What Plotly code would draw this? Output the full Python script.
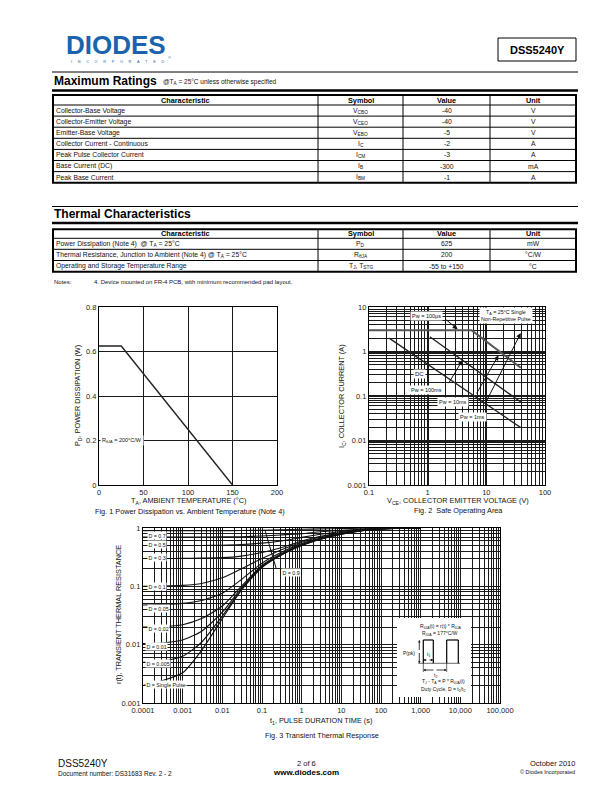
import math
import plotly.graph_objects as go

W, H = 612, 792
FONT = "Liberation Sans, Arial, sans-serif"


def px(x):
    return x / W


def py(y):
    return 1 - y / H


# ---------------- table data ----------------
MR_HEAD = ["Characteristic", "Symbol", "Value", "Unit"]
MR_CHAR = ["Collector-Base Voltage", "Collector-Emitter Voltage", "Emitter-Base Voltage",
           "Collector Current - Continuous", "Peak Pulse Collector Current",
           "Base Current (DC)", "Peak Base Current"]
MR_SYM = ["V<sub>CBO</sub>", "V<sub>CEO</sub>", "V<sub>EBO</sub>", "I<sub>C</sub>",
          "I<sub>CM</sub>", "I<sub>B</sub>", "I<sub>BM</sub>"]
MR_VAL = ["-40", "-40", "-5", "-2", "-3", "-300", "-1"]
MR_UNIT = ["V", "V", "V", "A", "A", "mA", "A"]

TC_CHAR = ["Power Dissipation (Note 4)  @ T<sub>A</sub> = 25°C",
           "Thermal Resistance, Junction to Ambient (Note 4) @ T<sub>A</sub> = 25°C",
           "Operating and Storage Temperature Range"]
TC_SYM = ["P<sub>D</sub>", "R<sub>θJA</sub>", "T<sub>J</sub>, T<sub>STG</sub>"]
TC_VAL = ["625", "200", "-55 to +150"]
TC_UNIT = ["mW", "°C/W", "°C"]

# ---------------- Fig 1 data ----------------
PD_TEMP = [0, 25, 150]
PD_POWER = [0.625, 0.625, 0.0]
F1_XTICKS = [0, 50, 100, 150, 200]
F1_YTICKS = [0, 0.2, 0.4, 0.6, 0.8]
F1_YTEXT = ["0", "0.2", "0.4", "0.6", "0.8"]

# ---------------- Fig 2 data ----------------
SOA_DC_V = [0.22, 38.6]
SOA_DC_I = [2.0, 0.0195]
SOA_MID_V = [1.09, 38.6]
SOA_MID_I = [2.14, 0.073]
SOA_TOP_V = [0.1, 5.6, 38.6]
SOA_TOP_I = [3.0, 3.0, 0.43]
F2_XDEC = [0.1, 1, 10, 100]
F2_XTEXT = ["0.1", "1", "10", "100"]
F2_YDEC = [0.001, 0.01, 0.1, 1, 10]
F2_YTEXT = ["0.001", "0.01", "0.1", "1", "10"]

# ---------------- Fig 3 data ----------------
T1 = [1e-4, 3e-4, 1e-3, 3e-3, 1e-2, 3e-2, 1e-1, 3e-1, 1, 3, 10, 30, 100, 300, 1000]
R_SINGLE = [0.002, 0.0024, 0.0033, 0.008, 0.028, 0.085, 0.21, 0.34, 0.5, 0.64, 0.78, 0.89, 0.96, 0.99, 1.0]
R_D0005 = [0.005, 0.0052, 0.0063, 0.011, 0.031, 0.088, 0.215, 0.345, 0.505, 0.645, 0.785, 0.89, 0.96, 0.99, 1.0]
R_D001 = [0.0105, 0.0107, 0.012, 0.017, 0.036, 0.093, 0.22, 0.35, 0.51, 0.65, 0.79, 0.895, 0.962, 0.99, 1.0]
R_D002 = [0.02, 0.0203, 0.022, 0.028, 0.046, 0.1, 0.23, 0.36, 0.52, 0.66, 0.8, 0.9, 0.965, 0.99, 1.0]
R_D005 = [0.048, 0.049, 0.051, 0.057, 0.076, 0.13, 0.25, 0.38, 0.54, 0.67, 0.81, 0.905, 0.967, 0.99, 1.0]
R_D01 = [0.1, 0.101, 0.104, 0.112, 0.14, 0.2, 0.3, 0.42, 0.57, 0.7, 0.82, 0.91, 0.97, 0.99, 1.0]
R_D03 = [0.3, 0.3, 0.301, 0.304, 0.31, 0.33, 0.38, 0.46, 0.6, 0.72, 0.84, 0.92, 0.97, 0.99, 1.0]
R_D05 = [0.5, 0.5, 0.5, 0.502, 0.507, 0.52, 0.55, 0.6, 0.69, 0.78, 0.87, 0.93, 0.975, 0.99, 1.0]
R_D07 = [0.7, 0.7, 0.7, 0.701, 0.704, 0.71, 0.73, 0.76, 0.8, 0.86, 0.91, 0.95, 0.98, 0.995, 1.0]
R_D09 = [0.9, 0.9, 0.9, 0.9, 0.901, 0.905, 0.915, 0.93, 0.95, 0.965, 0.98, 0.99, 0.995, 1.0, 1.0]
F3_XDEC = [1e-4, 1e-3, 1e-2, 1e-1, 1, 10, 100, 1000, 1e4, 1e5]
F3_XTEXT = ["0.0001", "0.001", "0.01", "0.1", "1", "10", "100", "1,000", "10,000", "100,000"]
F3_YDEC = [0.001, 0.01, 0.1, 1]
F3_YTEXT = ["0.001", "0.01", "0.1", "1"]

fig = go.Figure()
shapes = []
anns = []


def line(x0, y0, x1, y1, w=1, color="black"):
    shapes.append(dict(type="line", xref="paper", yref="paper", x0=px(x0), y0=py(y0),
                       x1=px(x1), y1=py(y1), line=dict(color=color, width=w)))


def rect(x0, y0, x1, y1, w=1, fill=None, color="black"):
    d = dict(type="rect", xref="paper", yref="paper", x0=px(x0), y0=py(y0),
             x1=px(x1), y1=py(y1), line=dict(color=color, width=w))
    if fill:
        d["fillcolor"] = fill
    shapes.append(d)


def text(t, x, y, size=7, anchor="center", color="#111", bold=False, textangle=0, yanchor="middle"):
    if bold:
        t = "<b>" + t + "</b>"
    anns.append(dict(text=t, x=px(x), y=py(y), xref="paper", yref="paper", showarrow=False,
                     xanchor=anchor, yanchor=yanchor, textangle=textangle, borderpad=0,
                     font=dict(family=FONT, size=size, color=color)))


# ---------------- header ----------------
BLUE = "#1b63ad"
text("<b>DIODES</b>", 65, 45, size=26, anchor="left", color=BLUE)
text("\u2002\u2002\u2002".join("INCORPORATED"), 70, 62, size=3.8, anchor="left", color=BLUE)
text("®", 167, 57, size=4, anchor="left", color=BLUE)
rect(498, 38, 576, 61, w=1)
text("DSS5240Y", 537, 49.5, size=11, bold=True, color="black")
line(52, 72, 578, 72, w=1)

# ---------------- Maximum ratings table ----------------
text("Maximum Ratings", 53, 81, size=12, anchor="left", bold=True, color="black")
text("@T<sub>A</sub> = 25°C unless otherwise specified", 162, 82, size=6.5, anchor="left")
line(52, 90.5, 578, 90.5, w=2.5)

COLS = [53, 318, 403, 490, 576]


def table(top, row_bounds, chars, syms, vals, units):
    bottom = row_bounds[-1]
    for yb in row_bounds[1:-1]:
        line(COLS[0], yb, COLS[-1], yb, w=1)
    for xb in COLS[1:-1]:
        line(xb, top, xb, bottom, w=1)
    rect(COLS[0], top, COLS[-1], bottom, w=2)
    hc = (row_bounds[0] + row_bounds[1]) / 2
    for i, h in enumerate(MR_HEAD):
        text(h, (COLS[i] + COLS[i + 1]) / 2, hc, size=7.3, bold=True, color="black")
    for r in range(len(chars)):
        yc = (row_bounds[r + 1] + row_bounds[r + 2]) / 2
        text(chars[r], COLS[0] + 2, yc, size=6.8, anchor="left")
        text(syms[r], (COLS[1] + COLS[2]) / 2, yc, size=6.8)
        text(vals[r], (COLS[2] + COLS[3]) / 2, yc, size=6.8)
        text(units[r], (COLS[3] + COLS[4]) / 2, yc, size=6.8)


MR_ROWS = [95, 105, 116.1, 127.2, 138.3, 149.4, 160.5, 171.6, 182.7]
table(95, MR_ROWS, MR_CHAR, MR_SYM, MR_VAL, MR_UNIT)

# ---------------- Thermal table ----------------
line(52, 206.5, 578, 206.5, w=1)
text("Thermal Characteristics", 53, 214.5, size=12, anchor="left", bold=True, color="black")
line(52, 223, 578, 223, w=2.5)
TC_ROWS = [229.3, 238.3, 249.3, 260.5, 271.7]
table(229.3, TC_ROWS, TC_CHAR, TC_SYM, TC_VAL, TC_UNIT)
text("Notes:", 53, 282, size=6, anchor="left")
text("4. Device mounted on FR-4 PCB, with minimum recommended pad layout.", 93, 282, size=6, anchor="left")

# ---------------- axes ----------------
TICKFONT = dict(family=FONT, size=7.5, color="#222")
GRID = "#1a1a1a"


def minors(decs):
    out = []
    for d in decs[:-1]:
        for k in range(2, 10):
            out.append(k * d)
    return out


def minor(decs):
    return dict(tickmode="array", tickvals=minors(decs), showgrid=True, gridcolor=GRID,
                gridwidth=1, ticks="", ticklen=0)


common = dict(showgrid=True, gridcolor=GRID, showline=True, linecolor="black", linewidth=1.2,
              mirror=True, zeroline=False, tickfont=TICKFONT, ticks="", ticklen=0, automargin=False)

fig.update_layout(
    width=W, height=H, margin=dict(l=0, r=0, t=0, b=0, autoexpand=False),
    paper_bgcolor="white", plot_bgcolor="white", showlegend=False,
    xaxis=dict(domain=[px(99), px(277)], range=[0, 200], tickvals=F1_XTICKS, anchor="y",
               gridwidth=1.2, **common),
    yaxis=dict(domain=[py(485), py(307)], range=[0, 0.8], tickvals=F1_YTICKS, ticktext=F1_YTEXT,
               anchor="x", gridwidth=1.2, **common),
    xaxis2=dict(type="log", domain=[px(369), px(545)], range=[-1, 2], anchor="y2",
                tickvals=F2_XDEC, ticktext=F2_XTEXT, gridwidth=1.5, minor=minor(F2_XDEC), **common),
    yaxis2=dict(type="log", domain=[py(485), py(307)], range=[-3, 1], anchor="x2",
                tickvals=F2_YDEC, ticktext=F2_YTEXT, gridwidth=1.5, minor=minor(F2_YDEC), **common),
    xaxis3=dict(type="log", domain=[px(143), px(500)], range=[-4, 5], anchor="y3",
                tickvals=F3_XDEC, ticktext=F3_XTEXT, gridwidth=1.2, minor=minor(F3_XDEC), **common),
    yaxis3=dict(type="log", domain=[py(703), py(528)], range=[-3, 0], anchor="x3",
                tickvals=F3_YDEC, ticktext=F3_YTEXT, gridwidth=1.2, minor=minor(F3_YDEC), **common),
)

# ---------------- Fig 1 ----------------
fig.add_trace(go.Scatter(x=PD_TEMP, y=PD_POWER, mode="lines", xaxis="x", yaxis="y",
                         line=dict(color="#222", width=1.4), hoverinfo="skip"))
anns.append(dict(text="R<sub>θJA</sub> = 200°C/W", x=26, y=0.2, xref="x", yref="y",
                 showarrow=False, bgcolor="white", borderpad=1,
                 font=dict(family=FONT, size=5.5, color="#111")))
text("P<sub>D</sub>, POWER DISSIPATION (W)", 78, 396, size=7.3, textangle=-90)
text("T<sub>A</sub>, AMBIENT TEMPERATURE (°C)", 188, 501, size=7.3)
text("Fig. 1 Power Dissipation vs. Ambient Temperature (Note 4)", 190, 511, size=7.3)

# ---------------- Fig 2 ----------------
fig.add_trace(go.Scatter(x=SOA_TOP_V, y=SOA_TOP_I, mode="lines", xaxis="x2", yaxis="y2",
                         line=dict(color="#555", width=2), hoverinfo="skip"))
fig.add_trace(go.Scatter(x=SOA_MID_V, y=SOA_MID_I, mode="lines", xaxis="x2", yaxis="y2",
                         line=dict(color="#222", width=1.3), hoverinfo="skip"))
fig.add_trace(go.Scatter(x=SOA_DC_V, y=SOA_DC_I, mode="lines", xaxis="x2", yaxis="y2",
                         line=dict(color="#222", width=1.3), hoverinfo="skip"))

L = math.log10


def lbl2(t, x, y, size=5.5):
    anns.append(dict(text=t, x=L(x), y=L(y), xref="x2", yref="y2", showarrow=False,
                     bgcolor="white", borderpad=1, font=dict(family=FONT, size=size, color="#111")))


def arrow2(x0, y0, x1, y1):
    anns.append(dict(text="", x=L(x1), y=L(y1), ax=L(x0), ay=L(y0), xref="x2", yref="y2",
                     axref="x2", ayref="y2", showarrow=True, arrowhead=2, arrowsize=1,
                     arrowwidth=1, arrowcolor="#111"))


arrow2(1.95, 5.5, 3.24, 3.17)
arrow2(2.2, 0.18, 3.93, 0.64)
arrow2(6.6, 0.106, 16.1, 0.82)
arrow2(9.7, 0.070, 38.6, 2.6)
lbl2("Pw = 100µs", 0.96, 6.4)
lbl2("Pw = 100ms", 0.96, 0.135)
lbl2("Pw = 10ms", 2.67, 0.073)
lbl2("Pw = 1ms", 5.9, 0.0335)
lbl2("DC", 0.74, 0.31, size=6)
anns.append(dict(text="T<sub>A</sub> = 25°C Single<br>Non-Repetitive Pulse", x=L(22), y=L(6.4),
                 xref="x2", yref="y2", showarrow=False, bgcolor="white", borderpad=1,
                 font=dict(family=FONT, size=5.3, color="#111")))
text("I<sub>C</sub>, COLLECTOR CURRENT (A)", 342, 396, size=7.3, textangle=-90)
text("V<sub>CE</sub>, COLLECTOR EMITTER VOLTAGE (V)", 458, 501, size=7.3)
text("Fig. 2  Safe Operating Area", 458, 510.5, size=7.3)

# ---------------- Fig 3 ----------------
for r in [R_SINGLE, R_D0005, R_D001, R_D002, R_D005, R_D01, R_D03, R_D05, R_D07, R_D09]:
    fig.add_trace(go.Scatter(x=T1, y=r, mode="lines", xaxis="x3", yaxis="y3",
                             line=dict(color="#111", width=1.1, shape="spline", smoothing=0.6),
                             hoverinfo="skip"))


def lbl3(t, x, y):
    anns.append(dict(text=t, x=px(x), y=py(y), xref="paper", yref="paper", showarrow=False,
                     xanchor="left", bgcolor="white", borderpad=0.5,
                     font=dict(family=FONT, size=5.3, color="#111")))


lbl3("D = 0.7", 147, 540)
lbl3("D = 0.5", 147, 549)
lbl3("D = 0.3", 147, 562.3)
lbl3("D = 0.1", 147, 591)
lbl3("D = 0.05", 147, 612.7)
lbl3("D = 0.02", 147, 633.3)
lbl3("D = 0.01", 145, 651)
lbl3("D = 0.005", 145, 668.3)
lbl3("D = Single Pulse", 145, 689.3)
anns.append(dict(text="", x=-0.927, y=-0.033, ax=-0.632, ay=-0.72, xref="x3", yref="y3",
                 axref="x3", ayref="y3", showarrow=True, arrowhead=0, arrowwidth=1,
                 arrowcolor="#111"))
lbl3("D = 0.9", 281, 576.7)

# inset
rect(397, 618, 471, 697, w=0, fill="white", color="white")
text("R<sub>θJA</sub>(t) = r(t) * R<sub>θJA</sub>", 440, 626.7, size=5)
text("R<sub>θJA</sub> = 177°C/W", 440, 633.5, size=5)
text("P(pk)", 409, 652.7, size=5)
line(418.3, 663.3, 460, 663.3, w=1.2, color="#888")
line(423.3, 663.3, 423.3, 640, w=1.2)
line(423.3, 640, 433.3, 640, w=1.2)
line(433.3, 640, 433.3, 663.3, w=1.2)
line(446.7, 663.3, 446.7, 640, w=1.2)
line(446.7, 640, 458.3, 640, w=1.2)
line(458.3, 640, 458.3, 663.3, w=1.2)
for (x0, y0, x1, y1) in [(419.3, 651.5, 419.3, 640), (419.3, 651.5, 419.3, 663.3),
                         (428, 660, 423.3, 660), (428, 660, 433.3, 660),
                         (435, 670, 423.3, 670), (435, 670, 446.7, 670)]:
    anns.append(dict(text="", x=px(x1), y=py(y1), ax=x0 - x1, ay=y0 - y1, xref="paper",
                     yref="paper", axref="pixel", ayref="pixel", showarrow=True, arrowhead=2,
                     arrowsize=0.6, arrowwidth=0.8, arrowcolor="#111"))
line(423.3, 663.3, 423.3, 672, w=0.6)
line(446.7, 663.3, 446.7, 672, w=0.6)
text("t<sub>1</sub>", 429, 654, size=5)
text("t<sub>2</sub>", 435, 675, size=5)
text("T<sub>J</sub> - T<sub>A</sub> = P * R<sub>θJA</sub>(t)", 443, 681.7, size=5)
text("Duty Cycle, D = t<sub>1</sub>/t<sub>2</sub>", 443, 689, size=5)

text("r(t), TRANSIENT THERMAL RESISTANCE", 118, 615, size=7.3, textangle=-90)
text("t<sub>1</sub>, PULSE DURATION TIME (s)", 321, 721, size=7.3)
text("Fig. 3 Transient Thermal Response", 322, 735, size=7.3)

# ---------------- footer ----------------
text("DSS5240Y", 57, 763, size=10, anchor="left")
text("Document number: DS31683 Rev. 2 - 2", 57, 773, size=6.5, anchor="left")
text("2 of 6", 306, 763, size=7.5)
text("www.diodes.com", 306, 772, size=8, bold=True, color="black")
text("October 2010", 576, 763, size=7.5, anchor="right")
text("© Diodes Incorporated", 576, 772, size=5.5, anchor="right")

fig.update_layout(shapes=shapes, annotations=anns)
fig.write_html("out.html")
